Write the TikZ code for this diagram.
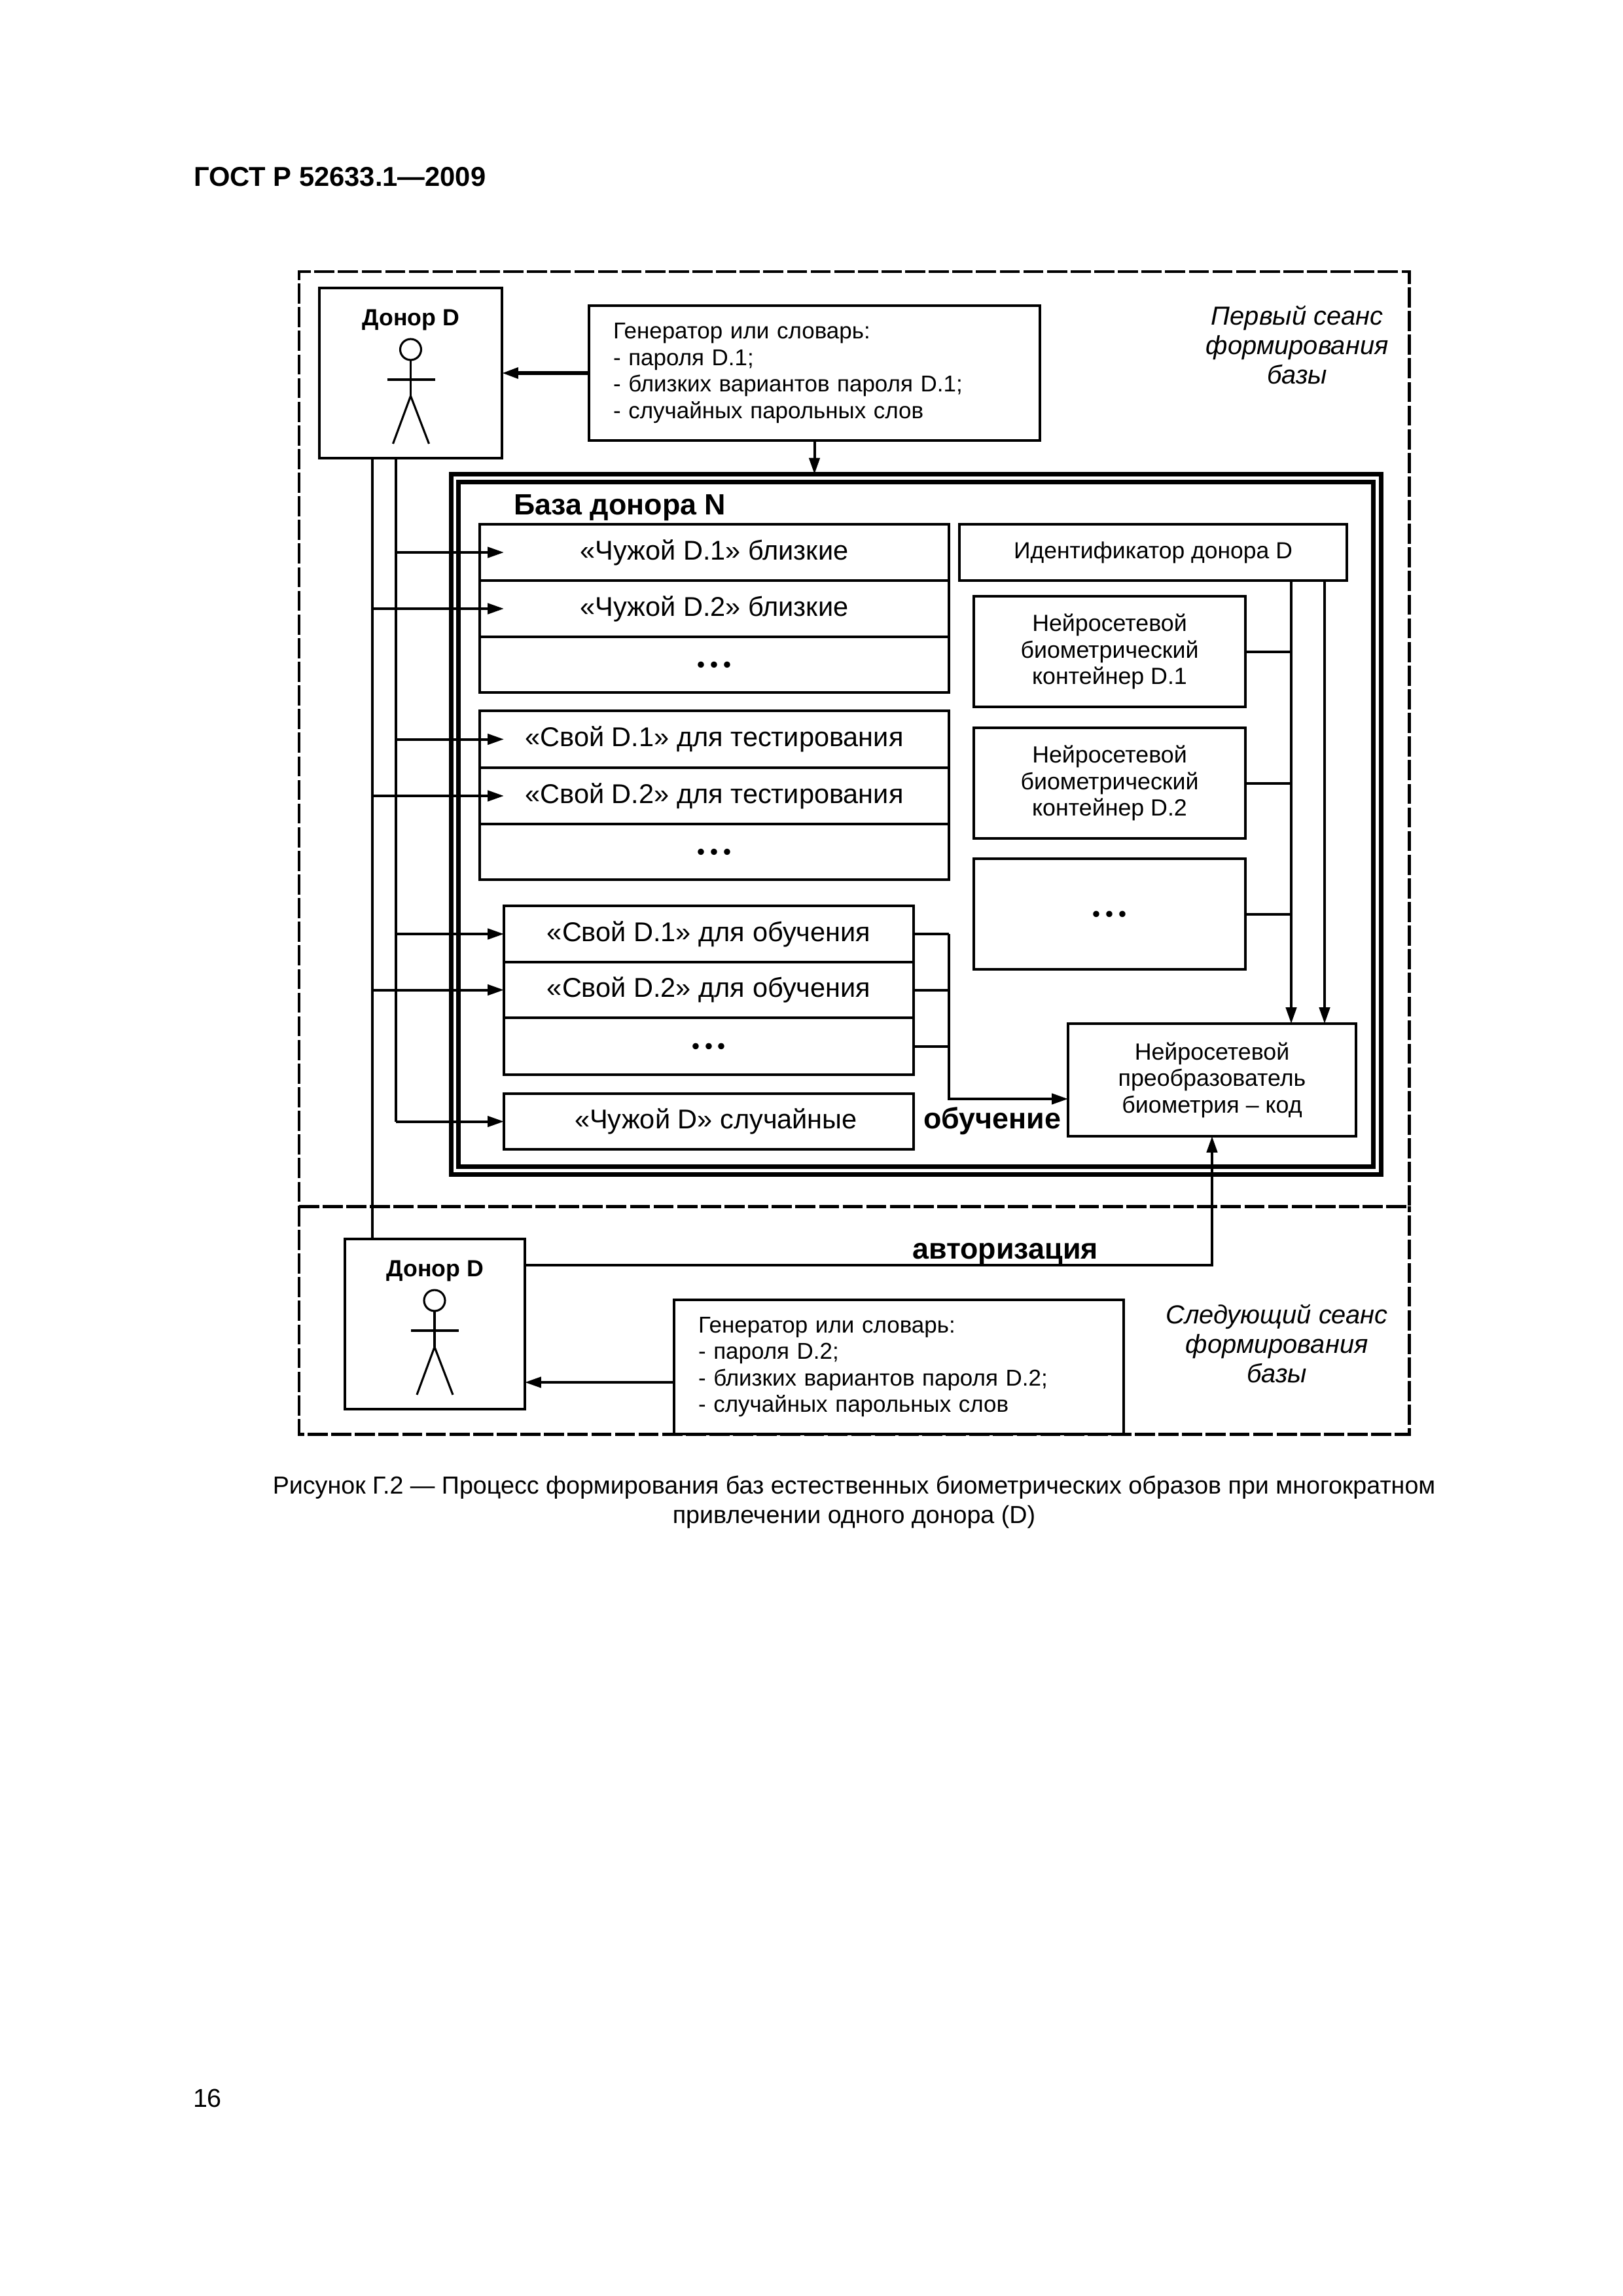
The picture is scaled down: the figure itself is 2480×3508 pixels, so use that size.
\documentclass[tikz,border=0pt]{standalone}
\usepackage{fontspec}
\setmainfont{Liberation Sans}
\newfontfamily\dotfont{Liberation Serif}
\usetikzlibrary{arrows.meta,calc}
\newcommand{\fsz}[1]{\fontsize{#1}{#1}\selectfont}
\newcommand{\threedots}{{\dotfont\fsz{19.2}...}}
\newcommand{\bx}[7][]{\node[pbox,#1,minimum width={(#5-#3)*0.2409pt},minimum height={(#6-#4)*0.2409pt}] (#2) at ({(#3+#5)/2},{(#4+#6)/2}) {#7};}
\newcommand{\person}[2]{%
  \begin{scope}[shift={(#1,#2)},line width=0.75pt]
    \draw (0,94) circle[radius=3.85pt];
    \draw (0,110) -- (0,165);
    \draw (-36,140) -- (37,140);
    \draw (-27,238) -- (0,165) -- (28,238);
  \end{scope}}
\tikzset{
  pbox/.style={draw,rectangle,line width=0.96pt,inner sep=0pt,outer sep=0pt,align=center},
  dashline/.style={line width=1.2pt,dash pattern=on 7.4pt off 1.3pt},
  dashbox/.style={pbox,dashline},
  ring/.style={pbox,line width=1.7pt},
  lbl/.style={font=\fsz{10},text height=7.4pt,text depth=2.1pt},
  gen/.style={pbox,font=\fontsize{8.42}{9.75}\selectfont,align=left,text width=6pt},
  nn/.style={font=\fontsize{8.62}{9.75}\selectfont},
  wire/.style={line width=0.96pt},
  arr/.style={wire,-{Triangle[length=6pt,width=3.9pt]}},
  thick arr/.style={line width=1.3pt,-{Triangle[length=6pt,width=3.9pt]}},
  txt/.style={inner sep=0pt,outer sep=0pt,align=center},
  hd/.style={txt,font=\fsz{10.8}\bfseries,text height=7.9pt,text depth=2.1pt},
  side/.style={txt,font=\fontsize{9.6}{10.9}\selectfont\itshape},
  captext/.style={txt,font=\fontsize{9.07}{11}\selectfont},
}
\begin{document}
\begin{tikzpicture}[x=0.2409pt,y=-0.2409pt]
\fill[white] (0,0) rectangle (2480,3508);
\useasboundingbox (0,0) rectangle (2480,3508);
% header, page number, caption
\node[txt,anchor=west,font=\fsz{10.05}\bfseries] (hdr) at (296,270) {ГОСТ Р 52633.1—2009};
\node[txt,anchor=west,font=\fsz{9.5}] (pg) at (295,3206) {16};
\node[captext] (caption) at (1305,2295) {Рисунок Г.2 — Процесс формирования баз естественных биометрических образов при многократном\\привлечении одного донора (D)};
% dashed regions
\bx[dashbox]{first}{457}{415}{2153.5}{1843}{}
\coordinate (nextL) at (457,2191);
\coordinate (nextR) at (2153.5,2191);
\draw[dashline] (first.south west) -- (nextL) -- (nextR) -- (first.south east);
\node[side] (l1) at (1982,527) {Первый сеанс\\формирования\\базы};
\node[side] (l2) at (1951,2053) {Следующий сеанс\\формирования\\базы};
% donor 1 and generator 1
\bx{d1}{488}{440}{767}{700}{}
\node[txt,font=\fsz{8.6}\bfseries] (d1t) at (628,489) {Донор D};
\person{627.5}{440}
\bx[gen,text width={(1589-900-74)*0.2409pt}]{g1}{900}{467}{1589}{673}{Генератор или словарь:\\- пароля D.1;\\- близких вариантов пароля D.1;\\- случайных парольных слов}
% base rings
\bx[ring]{ro}{689.5}{724.5}{2110.5}{1794.5}{}
\bx[ring]{ri}{700.5}{736.5}{2098.5}{1782.5}{}
\node[hd,anchor=west] (bt) at (785,774) {База донора N};
% left boxes
\bx[lbl]{a1}{733}{801}{1450}{887}{«Чужой D.1» близкие}
\bx[lbl]{a2}{733}{887}{1450}{973}{«Чужой D.2» близкие}
\bx{a3}{733}{973}{1450}{1058}{\threedots}
\bx[lbl]{b1}{733}{1086}{1450}{1173}{«Свой D.1» для тестирования}
\bx[lbl]{b2}{733}{1173}{1450}{1259}{«Свой D.2» для тестирования}
\bx{b3}{733}{1259}{1450}{1344}{\threedots}
\bx[lbl]{c1}{770}{1384}{1396}{1470}{«Свой D.1» для обучения}
\bx[lbl]{c2}{770}{1470}{1396}{1555}{«Свой D.2» для обучения}
\bx{c3}{770}{1555}{1396}{1642}{\threedots}
\bx[lbl]{e1}{770}{1671}{1396}{1756}{\hspace*{5.3pt}«Чужой D» случайные}
% right boxes
\bx[font=\fsz{8.55}]{id}{1466}{801}{2058}{887}{Идентификатор донора D}
\bx[nn]{n1}{1488}{911}{1903}{1080}{Нейросетевой\\биометрический\\контейнер D.1}
\bx[nn]{n2}{1488}{1112}{1903}{1281}{Нейросетевой\\биометрический\\контейнер D.2}
\bx{n3}{1488}{1312}{1903}{1481}{\threedots}
\bx[nn]{conv}{1632}{1564}{2072}{1736}{Нейросетевой\\преобразователь\\биометрия – код}
\node[hd] (ob) at (1516,1712) {обучение};
% donor 2 and generator 2
\bx{d2}{527}{1893}{802}{2153}{}
\node[txt,font=\fsz{8.6}\bfseries] (d2t) at (665,1942) {Донор D};
\person{664}{1893}
\bx[gen,text width={(1717-1030-74)*0.2409pt}]{g2}{1030}{1986}{1717}{2191}{Генератор или словарь:\\- пароля D.2;\\- близких вариантов пароля D.2;\\- случайных парольных слов}
\node[hd] (au) at (1536,1911) {авторизация};
% helper coordinates
\coordinate (trA) at (569,700);
\coordinate (trB) at (605,700);
\coordinate (trAend) at (569,1893);
\coordinate (tip) at (770,700);
\coordinate (busL) at (1450,1427);
\coordinate (convin) at (1632,1679);
\coordinate (bus1) at (1973,887);
\coordinate (bus2) at (2024,887);
\coordinate (authS) at (802,1933);
\coordinate (g2out) at (1030,2112);
\coordinate (d2in) at (802,2112);
% connectors
\draw[thick arr] (g1.west) -- (d1.east |- g1.west);
\draw[arr] (g1.south) -- (g1.south |- ro.north);
\draw[wire] (trA) -- (trAend);
\draw[wire] (trB) -- (trB |- e1.west);
\foreach \t in {a1,b1,c1,e1} \draw[arr] (trB |- \t.west) -- (tip |- \t.west);
\foreach \t in {a2,b2,c2} \draw[arr] (trA |- \t.west) -- (tip |- \t.west);
\foreach \t in {c1,c2,c3} \draw[wire] (\t.east) -- (busL |- \t.east);
\draw[arr] (busL) -- (busL |- convin) -- (convin);
\draw[arr] (bus1) -- (bus1 |- conv.north);
\draw[arr] (bus2) -- (bus2 |- conv.north);
\foreach \t in {n1,n2,n3} \draw[wire] (\t.east) -- (bus1 |- \t.east);
\draw[arr] (authS) -| (conv.south);
\draw[arr] (g2out) -- (d2in);
\end{tikzpicture}
\end{document}
